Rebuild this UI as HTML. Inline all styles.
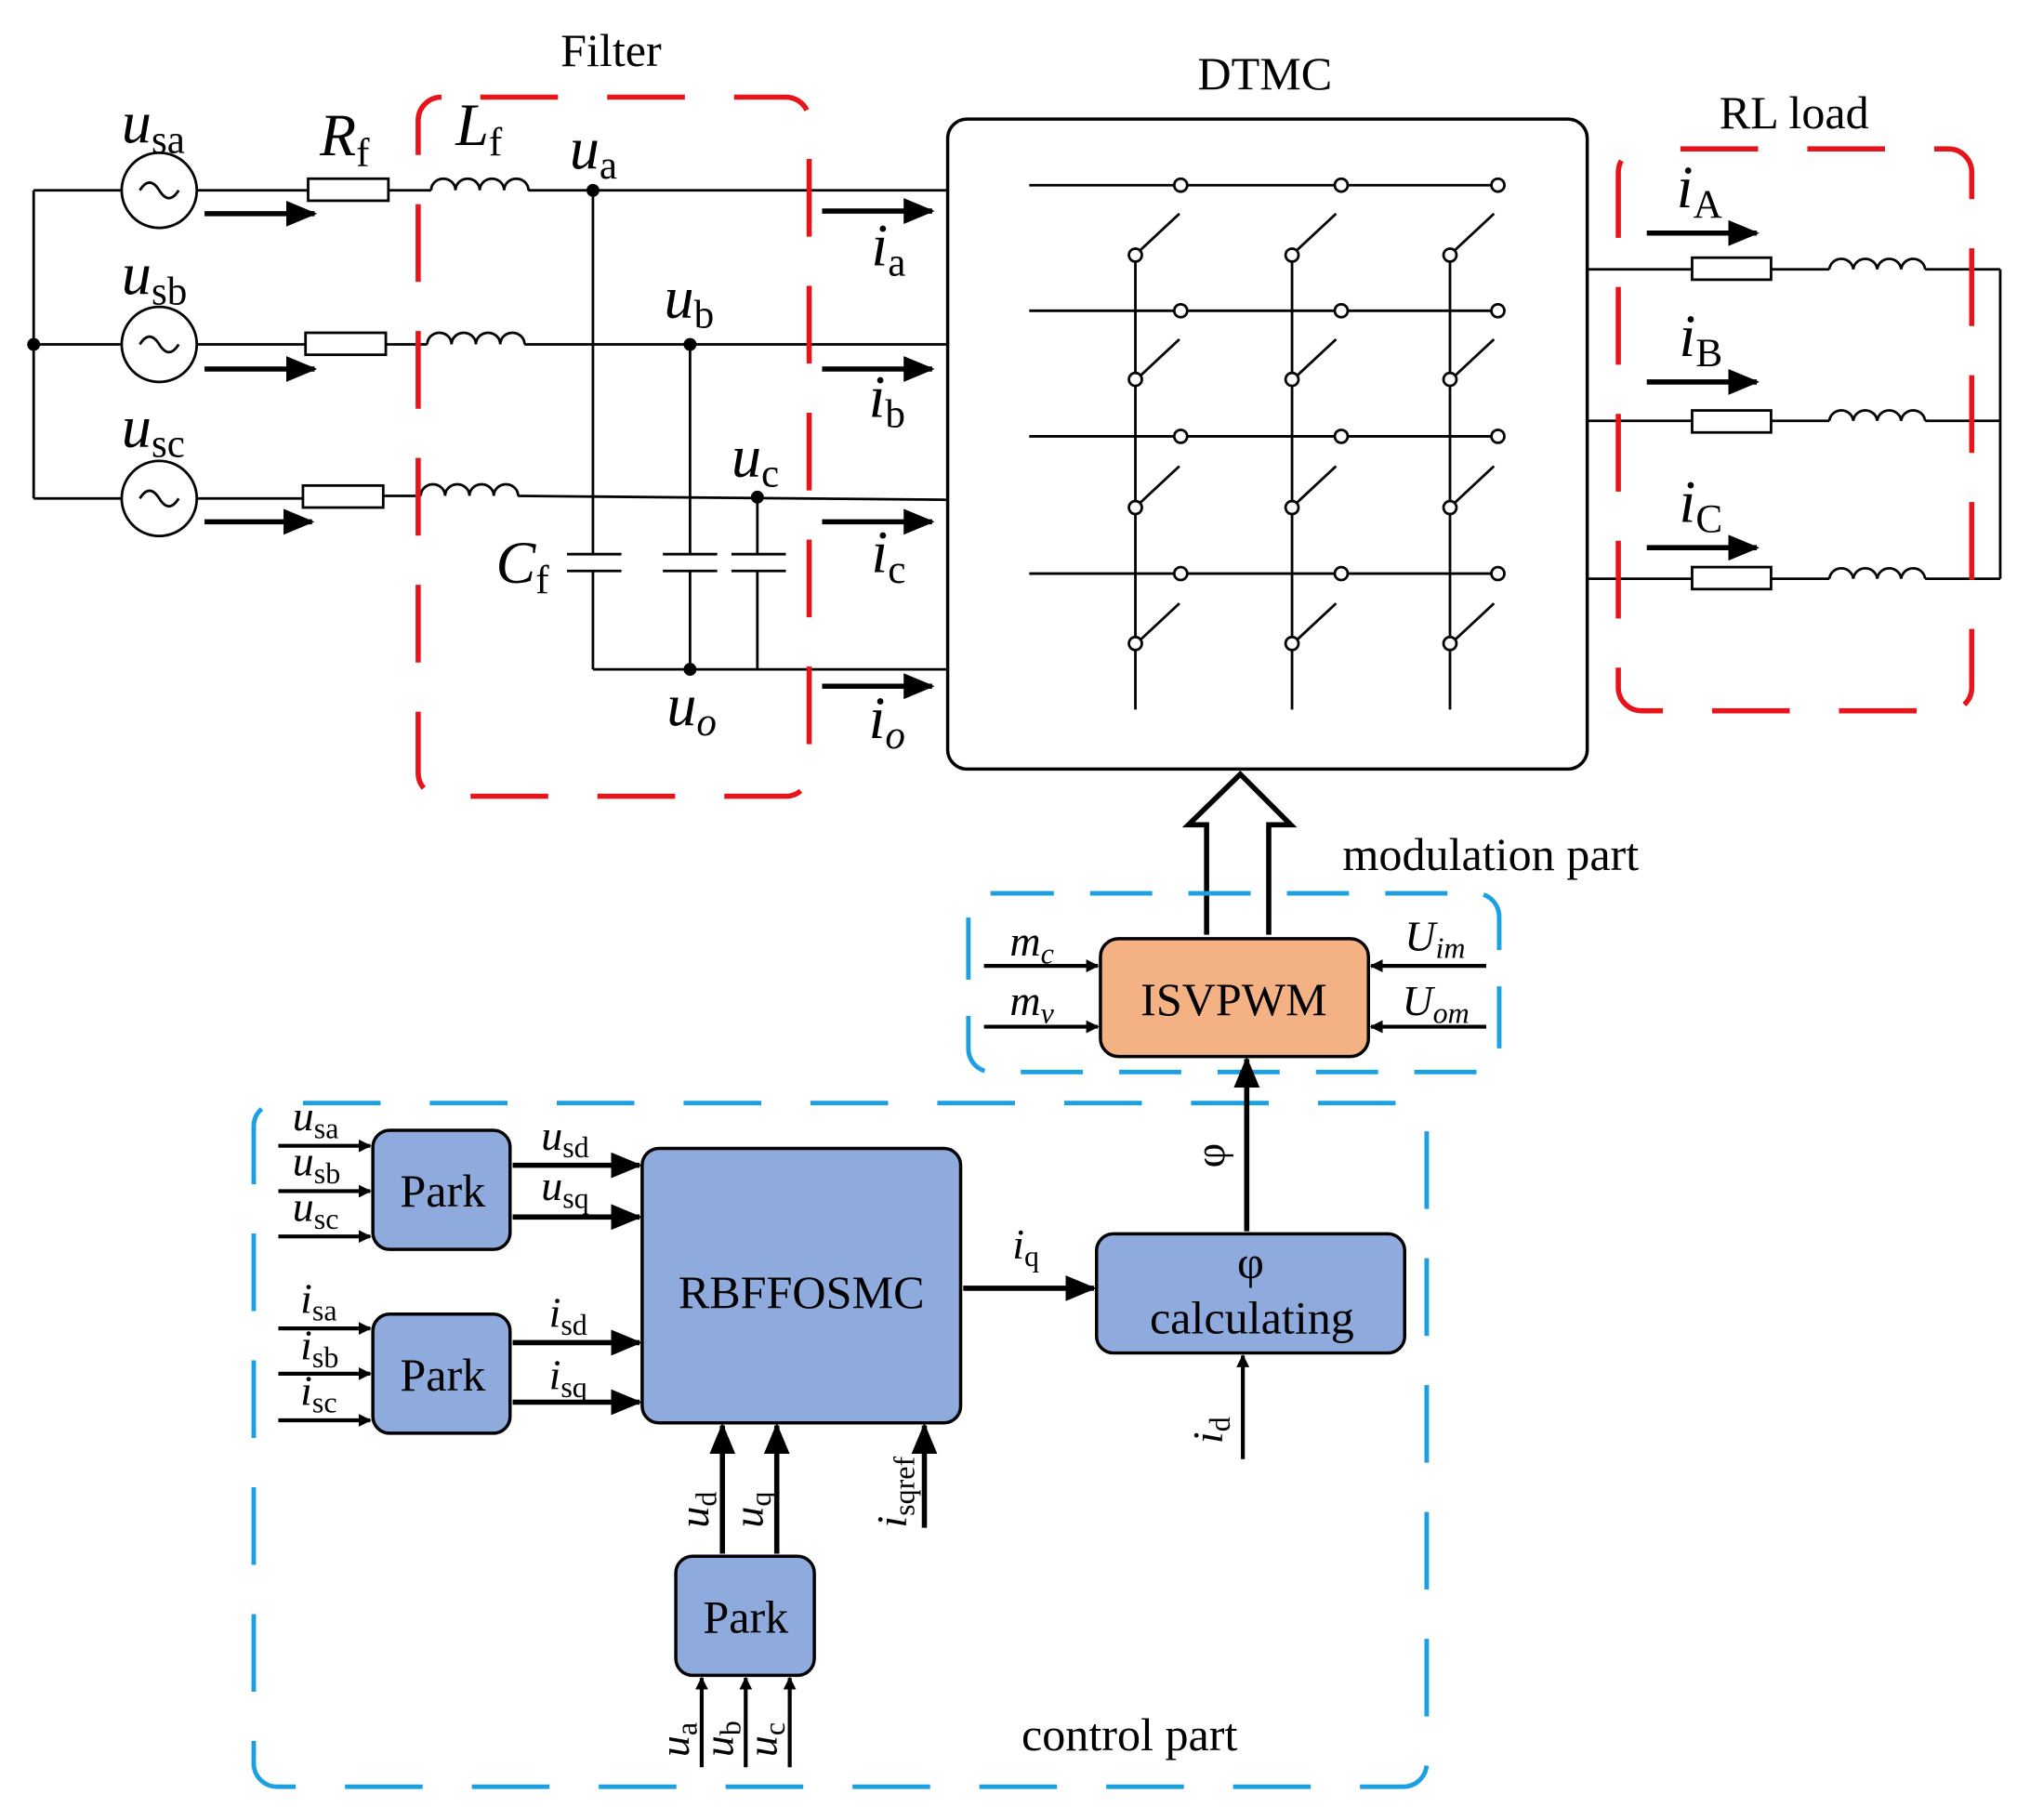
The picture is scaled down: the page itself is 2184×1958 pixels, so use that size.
<!DOCTYPE html>
<html><head><meta charset="utf-8"><style>
html,body{margin:0;padding:0;background:#fff}
svg{display:block}
text{font-family:"Liberation Serif",serif;fill:#000}
</style></head><body>
<svg width="2184" height="1958" viewBox="0 0 1568 1405.7" xmlns="http://www.w3.org/2000/svg">
<defs>
<marker id="ah" markerWidth="10" markerHeight="10" refX="9" refY="5" orient="auto" markerUnits="userSpaceOnUse" viewBox="0 0 10 10">
<path d="M0,0 L10,5 L0,10 z" fill="#000"/></marker>
<marker id="ab" markerWidth="24" markerHeight="20" refX="22" refY="10" orient="auto" markerUnits="userSpaceOnUse" viewBox="0 0 24 20">
<path d="M0,0 L24,10 L0,20 z" fill="#000"/></marker>
</defs>
<g stroke="#000" stroke-width="2" fill="none">
<line x1="26" y1="147" x2="26" y2="385"/>
<line x1="26" y1="147" x2="94" y2="147"/>
<line x1="26" y1="266" x2="94" y2="266"/>
<line x1="26" y1="385" x2="94" y2="385"/>
<circle cx="123" cy="147" r="29"/><circle cx="123" cy="266" r="29"/><circle cx="123" cy="385" r="29"/>
<path d="M108,147 q7.5,-12 15,0 t15,0"/><path d="M108,266 q7.5,-12 15,0 t15,0"/><path d="M108,385 q7.5,-12 15,0 t15,0"/>
<line x1="152" y1="147" x2="238" y2="147"/><rect x="238" y="138" width="62" height="17"/>
<line x1="300" y1="147" x2="333" y2="147"/>
<path d="M333,147 a9.4,9 0 0 1 18.8,0 a9.4,9 0 0 1 18.8,0 a9.4,9 0 0 1 18.8,0 a9.4,9 0 0 1 18.8,0"/>
<line x1="408" y1="147" x2="732" y2="147"/>
<line x1="152" y1="266" x2="236" y2="266"/><rect x="236" y="257" width="62" height="17"/>
<line x1="298" y1="266" x2="330" y2="266"/>
<path d="M330,266 a9.4,9 0 0 1 18.8,0 a9.4,9 0 0 1 18.8,0 a9.4,9 0 0 1 18.8,0 a9.4,9 0 0 1 18.8,0"/>
<line x1="405" y1="266" x2="732" y2="266"/>
<line x1="152" y1="385" x2="234" y2="385"/><rect x="234" y="375" width="62" height="17"/>
<line x1="296" y1="383" x2="325" y2="383"/>
<path d="M325,383 a9.4,9 0 0 1 18.8,0 a9.4,9 0 0 1 18.8,0 a9.4,9 0 0 1 18.8,0 a9.4,9 0 0 1 18.8,0"/>
<line x1="400" y1="383" x2="732" y2="386"/>
<line x1="458" y1="147" x2="458" y2="428"/><line x1="458" y1="441" x2="458" y2="517"/>
<line x1="438" y1="428" x2="480" y2="428"/><line x1="438" y1="441" x2="480" y2="441"/>
<line x1="533" y1="266" x2="533" y2="428"/><line x1="533" y1="441" x2="533" y2="517"/>
<line x1="512" y1="428" x2="554" y2="428"/><line x1="512" y1="441" x2="554" y2="441"/>
<line x1="585" y1="384" x2="585" y2="428"/><line x1="585" y1="441" x2="585" y2="517"/>
<line x1="565" y1="428" x2="607" y2="428"/><line x1="565" y1="441" x2="607" y2="441"/>
<line x1="458" y1="517" x2="732" y2="517"/>
</g>
<g fill="#000"><circle cx="26" cy="266" r="5"/><circle cx="458" cy="147" r="5"/><circle cx="533" cy="266" r="5"/><circle cx="585" cy="384" r="5"/><circle cx="533" cy="517" r="5"/></g>
<g stroke="#000" stroke-width="4" marker-end="url(#ab)">
<line x1="158" y1="165" x2="243" y2="165"/><line x1="158" y1="285" x2="243" y2="285"/><line x1="158" y1="403" x2="241" y2="403"/>
<line x1="635" y1="163" x2="720" y2="163"/><line x1="635" y1="285" x2="720" y2="285"/><line x1="635" y1="403" x2="720" y2="403"/><line x1="635" y1="530" x2="720" y2="530"/>
<line x1="1272" y1="180" x2="1357" y2="180"/><line x1="1272" y1="295" x2="1357" y2="295"/><line x1="1272" y1="423" x2="1357" y2="423"/>
</g>
<rect x="323" y="75" width="302" height="540" rx="18" fill="none" stroke="#e8141c" stroke-width="4" stroke-dasharray="60,38" stroke-dashoffset="-30"/>
<rect x="732" y="92" width="494" height="502" rx="15" fill="none" stroke="#000" stroke-width="2.5"/>
<g stroke="#000" stroke-width="2" fill="none">
<line x1="795" y1="143" x2="1152" y2="143"/><line x1="795" y1="240" x2="1152" y2="240"/><line x1="795" y1="337" x2="1152" y2="337"/><line x1="795" y1="443" x2="1152" y2="443"/>
<line x1="877" y1="202" x2="877" y2="548"/><line x1="998" y1="202" x2="998" y2="548"/><line x1="1120" y1="202" x2="1120" y2="548"/>
</g>
<g stroke="#000" stroke-width="2" fill="#fff">
<circle cx="912" cy="143" r="5"/><circle cx="1036" cy="143" r="5"/><circle cx="1157" cy="143" r="5"/>
<circle cx="912" cy="240" r="5"/><circle cx="1036" cy="240" r="5"/><circle cx="1157" cy="240" r="5"/>
<circle cx="912" cy="337" r="5"/><circle cx="1036" cy="337" r="5"/><circle cx="1157" cy="337" r="5"/>
<circle cx="912" cy="443" r="5"/><circle cx="1036" cy="443" r="5"/><circle cx="1157" cy="443" r="5"/>
</g>
<g stroke="#000" stroke-width="2" fill="#fff">
<path d="M881,193 L911,165"/><path d="M1002,193 L1032,165"/><path d="M1124,193 L1154,165"/>
<path d="M881,290 L911,262"/><path d="M1002,290 L1032,262"/><path d="M1124,290 L1154,262"/>
<path d="M881,388 L911,360"/><path d="M1002,388 L1032,360"/><path d="M1124,388 L1154,360"/>
<path d="M881,494 L911,466"/><path d="M1002,494 L1032,466"/><path d="M1124,494 L1154,466"/>
<circle cx="877" cy="197" r="5"/><circle cx="998" cy="197" r="5"/><circle cx="1120" cy="197" r="5"/>
<circle cx="877" cy="293" r="5"/><circle cx="998" cy="293" r="5"/><circle cx="1120" cy="293" r="5"/>
<circle cx="877" cy="392" r="5"/><circle cx="998" cy="392" r="5"/><circle cx="1120" cy="392" r="5"/>
<circle cx="877" cy="497" r="5"/><circle cx="998" cy="497" r="5"/><circle cx="1120" cy="497" r="5"/>
</g>
<g stroke="#000" stroke-width="2" fill="none">
<line x1="1226" y1="208" x2="1307" y2="208"/><rect x="1307" y="199" width="61" height="17"/><line x1="1368" y1="208" x2="1413" y2="208"/>
<path d="M1413,208 a9.3,9 0 0 1 18.5,0 a9.3,9 0 0 1 18.5,0 a9.3,9 0 0 1 18.5,0 a9.3,9 0 0 1 18.5,0"/><line x1="1487" y1="208" x2="1545" y2="208"/>
<line x1="1226" y1="325" x2="1307" y2="325"/><rect x="1307" y="317" width="61" height="17"/><line x1="1368" y1="325" x2="1413" y2="325"/>
<path d="M1413,325 a9.3,9 0 0 1 18.5,0 a9.3,9 0 0 1 18.5,0 a9.3,9 0 0 1 18.5,0 a9.3,9 0 0 1 18.5,0"/><line x1="1487" y1="325" x2="1545" y2="325"/>
<line x1="1226" y1="447" x2="1307" y2="447"/><rect x="1307" y="438" width="61" height="17"/><line x1="1368" y1="447" x2="1413" y2="447"/>
<path d="M1413,447 a9.3,9 0 0 1 18.5,0 a9.3,9 0 0 1 18.5,0 a9.3,9 0 0 1 18.5,0 a9.3,9 0 0 1 18.5,0"/><line x1="1487" y1="447" x2="1545" y2="447"/>
<line x1="1545" y1="208" x2="1545" y2="447"/>
</g>
<rect x="1250" y="115" width="273" height="434" rx="18" fill="none" stroke="#e8141c" stroke-width="4" stroke-dasharray="60,38" stroke-dashoffset="-30"/>
<path d="M932,722 L932,637 L918,637 L958,598 L997,637 L980,637 L980,722" fill="#fff" stroke="#000" stroke-width="4"/>
<rect x="748" y="690" width="410" height="138" rx="18" fill="none" stroke="#1ba1e2" stroke-width="3.5" stroke-dasharray="48,28"/>
<rect x="850" y="725" width="207" height="91" rx="14" fill="#f4b183" stroke="#000" stroke-width="2.5"/>
<text x="953" y="784" font-size="36" text-anchor="middle">ISVPWM</text>
<g stroke="#000" stroke-width="3" marker-end="url(#ah)">
<line x1="760" y1="746" x2="848" y2="746"/><line x1="760" y1="793" x2="848" y2="793"/>
<line x1="1148" y1="746" x2="1059" y2="746"/><line x1="1148" y1="793" x2="1059" y2="793"/>
</g>
<rect x="196" y="852" width="906" height="528" rx="18" fill="none" stroke="#1ba1e2" stroke-width="3.5" stroke-dasharray="60,38" stroke-dashoffset="-20"/>
<g fill="#8faadc" stroke="#000" stroke-width="2.5">
<rect x="288" y="873" width="106" height="92" rx="13"/>
<rect x="288" y="1015" width="106" height="92" rx="13"/>
<rect x="522" y="1202" width="107" height="92" rx="13"/>
<rect x="496" y="887" width="246" height="212" rx="13"/>
<rect x="847" y="953" width="238" height="92" rx="13"/>
</g>
<g font-size="36" text-anchor="middle">
<text x="342" y="932">Park</text><text x="342" y="1074">Park</text><text x="576" y="1261">Park</text>
<text x="619" y="1010">RBFFOSMC</text>
<text x="966" y="987">φ</text><text x="967" y="1030">calculating</text>
</g>
<g stroke="#000" stroke-width="3" marker-end="url(#ah)">
<line x1="215" y1="885" x2="286" y2="885"/><line x1="215" y1="920" x2="286" y2="920"/><line x1="215" y1="955" x2="286" y2="955"/>
<line x1="215" y1="1026" x2="286" y2="1026"/><line x1="215" y1="1061" x2="286" y2="1061"/><line x1="215" y1="1097" x2="286" y2="1097"/>
<line x1="542" y1="1365" x2="542" y2="1296"/><line x1="576" y1="1365" x2="576" y2="1296"/><line x1="610" y1="1365" x2="610" y2="1296"/>
<line x1="960" y1="1127" x2="960" y2="1047"/>
</g>
<g stroke="#000" stroke-width="4" marker-end="url(#ab)">
<line x1="396" y1="900" x2="494" y2="900"/><line x1="396" y1="940" x2="494" y2="940"/>
<line x1="396" y1="1037" x2="494" y2="1037"/><line x1="396" y1="1083" x2="494" y2="1083"/>
<line x1="558" y1="1200" x2="558" y2="1101"/><line x1="600" y1="1200" x2="600" y2="1101"/>
<line x1="714" y1="1180" x2="714" y2="1101"/>
<line x1="744" y1="995" x2="845" y2="995"/>
<line x1="963" y1="951" x2="963" y2="818"/>
</g>
<g font-size="46" font-style="italic">
<text x="94" y="110">u<tspan font-size="31" font-style="normal" dy="8">sa</tspan></text>
<text x="94" y="227">u<tspan font-size="31" font-style="normal" dy="8">sb</tspan></text>
<text x="94" y="345">u<tspan font-size="31" font-style="normal" dy="8">sc</tspan></text>
<text x="247" y="120">R<tspan font-size="31" font-style="normal" dy="8">f</tspan></text>
<text x="352" y="112">L<tspan font-size="31" font-style="normal" dy="8">f</tspan></text>
<text x="440" y="130">u<tspan font-size="31" font-style="normal" dy="8">a</tspan></text>
<text x="513" y="245">u<tspan font-size="31" font-style="normal" dy="8">b</tspan></text>
<text x="565" y="368">u<tspan font-size="31" font-style="normal" dy="8">c</tspan></text>
<text x="383" y="450">C<tspan font-size="31" font-style="normal" dy="8">f</tspan></text>
<text x="515" y="560">u<tspan font-size="31" dy="8">o</tspan></text>
<text x="673" y="205">i<tspan font-size="31" font-style="normal" dy="8">a</tspan></text>
<text x="671" y="322">i<tspan font-size="31" font-style="normal" dy="8">b</tspan></text>
<text x="673" y="442">i<tspan font-size="31" font-style="normal" dy="8">c</tspan></text>
<text x="671" y="570">i<tspan font-size="31" dy="8">o</tspan></text>
<text x="1295" y="160">i<tspan font-size="31" font-style="normal" dy="8">A</tspan></text>
<text x="1297" y="275">i<tspan font-size="31" font-style="normal" dy="8">B</tspan></text>
<text x="1297" y="403">i<tspan font-size="31" font-style="normal" dy="8">C</tspan></text>
</g>
<g font-size="36">
<text x="433" y="51">Filter</text>
<text x="925" y="69">DTMC</text>
<text x="1328" y="99">RL load</text>
<text x="1037" y="672">modulation part</text>
<text x="789" y="1352">control part</text>
</g>
<g font-size="33" font-style="italic">
<text x="780" y="738">m<tspan font-size="23" dy="6">c</tspan></text>
<text x="780" y="784">m<tspan font-size="23" dy="6">v</tspan></text>
<text x="1085" y="734">U<tspan font-size="23" dy="6">im</tspan></text>
<text x="1083" y="784">U<tspan font-size="23" dy="6">om</tspan></text>
<text x="226" y="873">u<tspan font-size="23" font-style="normal" dy="6">sa</tspan></text>
<text x="226" y="908">u<tspan font-size="23" font-style="normal" dy="6">sb</tspan></text>
<text x="226" y="943">u<tspan font-size="23" font-style="normal" dy="6">sc</tspan></text>
<text x="232" y="1014">i<tspan font-size="23" font-style="normal" dy="6">sa</tspan></text>
<text x="232" y="1050">i<tspan font-size="23" font-style="normal" dy="6">sb</tspan></text>
<text x="232" y="1085">i<tspan font-size="23" font-style="normal" dy="6">sc</tspan></text>
<text x="418" y="888">u<tspan font-size="23" font-style="normal" dy="6">sd</tspan></text>
<text x="418" y="927">u<tspan font-size="23" font-style="normal" dy="6">sq</tspan></text>
<text x="424" y="1025">i<tspan font-size="23" font-style="normal" dy="6">sd</tspan></text>
<text x="424" y="1073">i<tspan font-size="23" font-style="normal" dy="6">sq</tspan></text>
<text x="782" y="972">i<tspan font-size="23" font-style="normal" dy="6">q</tspan></text>
<text transform="translate(547,1180) rotate(-90)">u<tspan font-size="23" font-style="normal" dy="6">d</tspan></text>
<text transform="translate(589,1180) rotate(-90)">u<tspan font-size="23" font-style="normal" dy="6">q</tspan></text>
<text transform="translate(700,1180) rotate(-90)">i<tspan font-size="23" font-style="normal" dy="6">sqref</tspan></text>
<text transform="translate(944,1115) rotate(-90)">i<tspan font-size="23" font-style="normal" dy="6">d</tspan></text>
<text transform="translate(532,1357) rotate(-90)">u<tspan font-size="23" font-style="normal" dy="6">a</tspan></text>
<text transform="translate(566,1357) rotate(-90)">u<tspan font-size="23" font-style="normal" dy="6">b</tspan></text>
<text transform="translate(600,1357) rotate(-90)">u<tspan font-size="23" font-style="normal" dy="6">c</tspan></text>
<text transform="translate(946,902) rotate(-90)" font-style="normal">φ</text>
</g>
</svg>
</body></html>
